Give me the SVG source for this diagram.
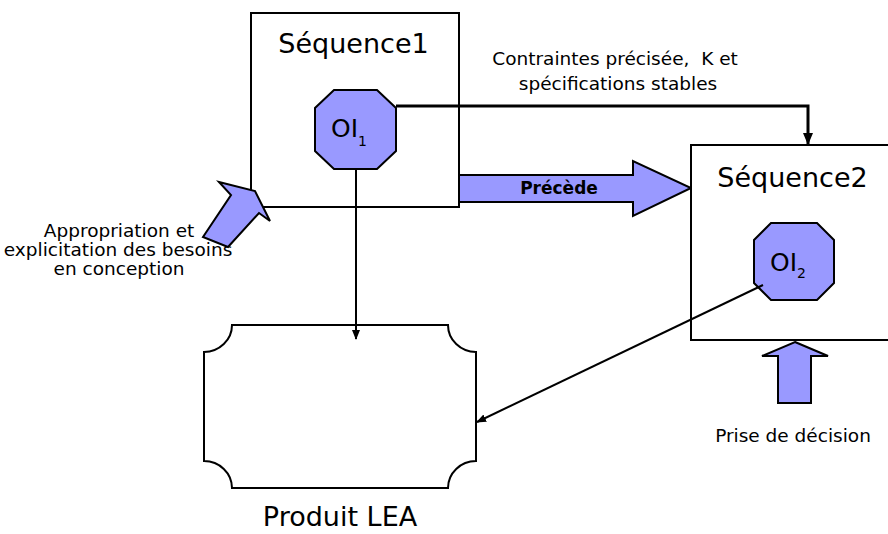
<svg xmlns="http://www.w3.org/2000/svg" width="888" height="534" viewBox="0 0 888 534">
<style>
  .box { fill: #ffffff; stroke: #000000; stroke-width: 2; }
  .oi { fill: #9999ff; stroke: #000000; stroke-width: 2; stroke-linejoin: miter; }
  .blk { fill: #9999ff; stroke: #000000; stroke-width: 2; stroke-linejoin: miter; }
  .t { font-family: "DejaVu Sans", Verdana, sans-serif; fill: #000000; }
  .big { font-size: 27px; }
  .small { font-size: 18.5px; }
  .oit { font-size: 25px; }
  .sub { font-size: 14px; }
  .conn { fill: none; stroke: #000000; stroke-width: 2; }
  .conn3 { fill: none; stroke: #000000; stroke-width: 3; }
</style>
<defs>
  <marker id="ah" markerWidth="10" markerHeight="10" refX="9" refY="5" orient="auto" markerUnits="userSpaceOnUse">
    <path d="M0,1 L10,5 L0,9 Z" fill="#000000"/>
  </marker>
  <marker id="ah3" markerWidth="12" markerHeight="12" refX="11" refY="6" orient="auto" markerUnits="userSpaceOnUse">
    <path d="M0,1 L12,6 L0,11 Z" fill="#000000"/>
  </marker>
</defs>
<rect width="888" height="534" fill="#ffffff"/>

<g id="produit-lea">
  <path class="box" d="M232,325 H448 A28,27 0 0 0 476,352 V461 A28,27 0 0 0 448,488 H232 A28,27 0 0 0 204,461 V352 A28,27 0 0 0 232,325 Z"/>
  <text class="t big" x="340" y="526" text-anchor="middle">Produit LEA</text>
</g>

<g id="precede">
  <polygon class="blk" points="459,175 633,175 633,161 691,188 633,216 633,202 459,202"/>
  <text class="t" x="559" y="194" text-anchor="middle" style="font-size:17px;font-weight:bold">Précède</text>
</g>

<g id="sequence1">
  <rect class="box" x="251" y="13" width="208" height="194"/>
  <text class="t big" x="353.5" y="53" text-anchor="middle">Séquence1</text>
</g>

<g id="sequence2">
  <rect class="box" x="691" y="145" width="210" height="195"/>
  <text class="t big" x="792.5" y="187" text-anchor="middle">Séquence2</text>
</g>

<g id="oi1">
  <polygon class="oi" points="334,90 377,90 396,108 396,151 377,169 334,169 315,151 315,108"/>
  <text class="t oit" x="331" y="137">OI<tspan class="sub" dy="9">1</tspan></text>
</g>

<g id="oi2">
  <polygon class="oi" points="771,223 817,223 834,240 834,283 817,300 771,300 754,283 754,240"/>
  <text class="t oit" x="770" y="271">OI<tspan class="sub" dy="7">2</tspan></text>
</g>

<g id="appropriation">
  <polygon class="blk" points="219,182 255,191 270,221 259,213 228,247 203,237 231,195"/>
  <text class="t small" text-anchor="middle">
    <tspan x="122" y="237">Appropriation et</tspan>
    <tspan x="121" y="256">explicitation des besoins</tspan>
    <tspan x="119" y="275">en conception</tspan>
  </text>
</g>

<g id="prise-decision">
  <polygon class="blk" points="795,342 828,356 811,356 811,403 778,403 778,356 762,356"/>
  <text class="t small" x="793" y="442" text-anchor="middle">Prise de décision</text>
</g>

<g id="contraintes-label">
  <text class="t small" text-anchor="middle">
    <tspan x="618" y="65" xml:space="preserve">Contraintes précisée,  K et</tspan>
    <tspan x="618" y="90">spécifications stables</tspan>
  </text>
</g>

<g id="connectors">
  <path class="conn3" d="M396,106 H808 V144" marker-end="url(#ah3)"/>
  <path class="conn" d="M356,169 V339" marker-end="url(#ah)"/>
  <path class="conn" d="M763,285 L477,422" marker-end="url(#ah)"/>
</g>
</svg>
